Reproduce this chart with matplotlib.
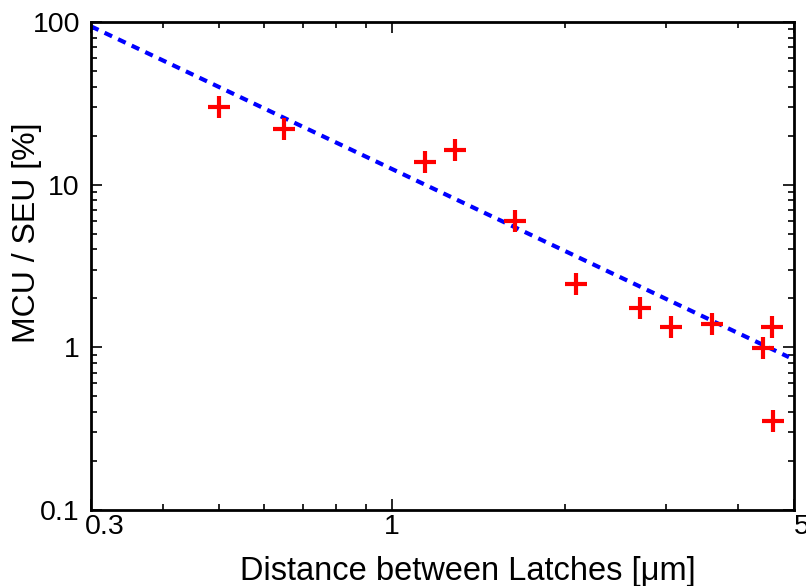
import numpy as np
import matplotlib.pyplot as plt
from matplotlib.ticker import FixedLocator, NullFormatter
from matplotlib.transforms import ScaledTranslation

# measured MCU/SEU ratio vs latch spacing
distance = [0.50, 0.65, 1.14, 1.29, 1.64, 2.09, 2.70, 3.06, 3.60, 4.42, 4.58, 4.60]
mcu_ratio = [30.0, 22.0, 13.8, 16.3, 6.0, 2.45, 1.75, 1.33, 1.40, 0.99, 1.33, 0.35]

# power-law fit line end points
fit_x = [0.3, 4.9]
fit_y = [94.0, 0.87]

x_ticks = [0.3, 1, 5]
x_tick_labels = ["0.3", "1", "5"]
y_ticks = [0.1, 1, 10, 100]
y_tick_labels = ["0.1", "1", "10", "100"]


def main():
    plt.rcParams["font.family"] = ["Liberation Sans", "DejaVu Sans"]

    fig = plt.figure(figsize=(8.06, 5.86), dpi=100)
    ax = fig.add_axes([0.1129, 0.1297, 0.8722, 0.8328])

    ax.plot(fit_x, fit_y, color="#0000ff", linestyle=(0, (2.0, 1.6)),
            linewidth=3, zorder=2)
    ax.plot(distance, mcu_ratio, linestyle="none", marker="+",
            markersize=16, markeredgewidth=3, color="#ff0000", zorder=3)

    ax.set_xscale("log")
    ax.set_yscale("log")
    ax.set_xlim(0.3, 5)
    ax.set_ylim(0.1, 100)

    ax.xaxis.set_major_locator(FixedLocator(x_ticks))
    ax.set_xticklabels(x_tick_labels)
    ax.xaxis.set_minor_locator(FixedLocator([0.4, 0.5, 0.6, 0.7, 0.8, 0.9, 2, 3, 4]))
    ax.xaxis.set_minor_formatter(NullFormatter())
    ax.yaxis.set_major_locator(FixedLocator(y_ticks))
    ax.set_yticklabels(y_tick_labels)

    ax.tick_params(which="both", direction="in", top=True, right=True,
                   labelsize=20.5, width=1.2)
    ax.tick_params(which="major", length=8)
    ax.tick_params(which="minor", length=4)
    ax.tick_params(axis="y", pad=8)
    ax.tick_params(axis="x", pad=3)

    # first and last x labels sit to the right of their ticks
    xlabels = ax.get_xticklabels()
    xlabels[0].set_horizontalalignment("left")
    xlabels[0].set_transform(xlabels[0].get_transform()
                             + ScaledTranslation(-0.06, 0, fig.dpi_scale_trans))
    xlabels[-1].set_horizontalalignment("left")

    for sp in ax.spines.values():
        sp.set_linewidth(2)

    ax.set_xlabel("Distance between Latches [μm]", fontsize=23.5)
    ax.set_ylabel("MCU / SEU [%]", fontsize=23)
    ax.xaxis.set_label_coords(0.536, -0.094)
    ax.yaxis.set_label_coords(-0.070, 0.568)

    fig.savefig("out.png", dpi=100)
    plt.close(fig)


if __name__ == "__main__":
    main()
